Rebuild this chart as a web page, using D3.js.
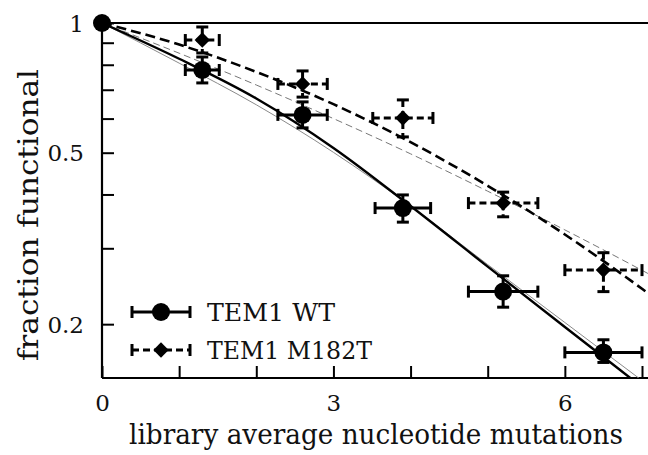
<!DOCTYPE html>
<html>
<head>
<meta charset="utf-8">
<script src="https://cdn.jsdelivr.net/npm/d3@7"></script>
<style>
  body { margin: 0; background: #fff; }
  svg { display: block; }
</style>
</head>
<body>
<div id="chart"></div>
<script>
// data
const xMut = [0, 1.3, 2.6, 3.9, 5.2, 6.5]
const wtFrac = [1, 0.778, 0.612, 0.372, 0.238, 0.172]
const wtLo = [1, 0.726, 0.571, 0.345, 0.219, 0.163]
const wtHi = [1, 0.834, 0.656, 0.399, 0.259, 0.184]
const wtXErr = [0, 0.22, 0.32, 0.36, 0.45, 0.5]
const m182Frac = [1, 0.913, 0.722, 0.602, 0.382, 0.267]
const m182Lo = [1, 0.852, 0.673, 0.544, 0.355, 0.238]
const m182Hi = [1, 0.979, 0.774, 0.663, 0.405, 0.293]
const m182XErr = [0, 0.22, 0.32, 0.39, 0.45, 0.5]

// fitted curves, sampled from the figure
const fitX = [0, 1, 2, 3, 4, 5, 6, 7, 7.5]
const wtFit = [1, 0.826, 0.668, 0.513, 0.376, 0.272, 0.197, 0.1429, 0.1216]
const wtFitThin = [1, 0.807, 0.646, 0.501, 0.376, 0.275, 0.2018, 0.148, 0.1266]
const m182Fit = [1, 0.891, 0.770, 0.648, 0.529, 0.419, 0.323, 0.2416, 0.207]
const m182FitThin = [1, 0.851, 0.718, 0.600, 0.497, 0.407, 0.331, 0.2667, 0.2385]

const xTicks = [0, 1, 2, 3, 4, 5, 6, 7]
const xTickLabels = [0, 3, 6]
const yTicks = [0.2, 0.3, 0.4, 0.5, 0.6, 0.7, 0.8, 0.9, 1]
const yTickLabels = [0.2, 0.5, 1]
const seriesNames = ["TEM1 WT", "TEM1 M182T"]

const serif = "DejaVu Serif"

let svgWidth = 648
let svgHeight = 455
let margin = {top: 23, right: 0, bottom: 77, left: 102}
let chartwidth = svgWidth - margin.left - margin.right
let chartheight = svgHeight - margin.top - margin.bottom

let svg = d3.select("#chart").append("svg")
  .attr("width", svgWidth)
  .attr("height", svgHeight)
svg.append("rect").attr("width", svgWidth).attr("height", svgHeight).attr("fill", "#fff")

let g = svg.append("g").attr("transform", `translate(${margin.left},${margin.top})`)

let x = d3.scaleLinear().domain([0, 7]).range([0, 540])
let y = d3.scaleLog().domain([0.15, 1]).range([chartheight, 0])

g.append("clipPath").attr("id", "plotclip")
  .append("rect").attr("x", 0).attr("y", -12).attr("width", chartwidth).attr("height", chartheight + 12)

// axes
let bottomAxis = d3.axisBottom(x).tickValues(xTicks).tickSize(-12).tickSizeOuter(0).tickPadding(17)
  .tickFormat(d => xTickLabels.includes(d) ? d : "")
let leftAxis = d3.axisLeft(y).tickValues(yTicks).tickSize(-12).tickSizeOuter(0).tickPadding(18)
  .tickFormat(d => yTickLabels.includes(d) ? d : "")

let xa = g.append("g").attr("transform", `translate(0,${chartheight})`).call(bottomAxis)
let ya = g.append("g").call(leftAxis)
;[xa, ya].forEach(a => {
  a.attr("font-family", serif)
  a.select(".domain").remove()
  a.selectAll("line").attr("stroke", "#000").attr("stroke-width", 2)
  a.selectAll("text").attr("font-size", 23).attr("fill", "#111").attr("font-family", serif)
})
ya.selectAll("text").attr("dy", "0.36em")

// frame: left, bottom, top
g.append("line").attr("x1", 0).attr("x2", 0).attr("y1", 0).attr("y2", chartheight)
  .attr("stroke", "#000").attr("stroke-width", 2.2)
g.append("line").attr("x1", 0).attr("x2", chartwidth).attr("y1", chartheight).attr("y2", chartheight)
  .attr("stroke", "#000").attr("stroke-width", 2.2)
g.append("line").attr("x1", 0).attr("x2", chartwidth).attr("y1", 0).attr("y2", 0)
  .attr("stroke", "#000").attr("stroke-width", 2.2)

// fit curves
let line = d3.line().x(d => x(d[0])).y(d => y(d[1])).curve(d3.curveMonotoneX)
let curves = g.append("g").attr("clip-path", "url(#plotclip)")
function drawFit(vals, w, color, dash) {
  curves.append("path")
    .attr("d", line(fitX.map((v, i) => [v, vals[i]])))
    .attr("fill", "none").attr("stroke", color).attr("stroke-width", w)
    .attr("stroke-dasharray", dash)
}
drawFit(wtFitThin, 1, "#8a8a8a", null)
drawFit(m182FitThin, 1, "#777", "7,4")
drawFit(wtFit, 2.4, "#000", null)
drawFit(m182Fit, 2.6, "#000", "10,5")

// error bars
function errorBars(frac, lo, hi, xerr, dash) {
  let eg = g.append("g").attr("stroke", "#000").attr("stroke-width", 3).attr("fill", "none")
  xMut.forEach((m, i) => {
    if (i === 0) return
    let cy = y(frac[i]), cx = x(m)
    let x0 = x(m - xerr[i]), x1 = x(m + xerr[i])
    eg.append("line").attr("x1", x0).attr("x2", x1).attr("y1", cy).attr("y2", cy).attr("stroke-dasharray", dash)
    eg.append("line").attr("x1", x0).attr("x2", x0).attr("y1", cy - 6).attr("y2", cy + 6)
    eg.append("line").attr("x1", x1).attr("x2", x1).attr("y1", cy - 6).attr("y2", cy + 6)
    eg.append("line").attr("x1", cx).attr("x2", cx).attr("y1", y(hi[i])).attr("y2", y(lo[i])).attr("stroke-dasharray", dash)
    eg.append("line").attr("x1", cx - 6).attr("x2", cx + 6).attr("y1", y(hi[i])).attr("y2", y(hi[i]))
    eg.append("line").attr("x1", cx - 6).attr("x2", cx + 6).attr("y1", y(lo[i])).attr("y2", y(lo[i]))
  })
}
errorBars(m182Frac, m182Lo, m182Hi, m182XErr, "7,4")
errorBars(wtFrac, wtLo, wtHi, wtXErr, null)

let diamond = d3.symbol().type(d3.symbolDiamond2).size(150)
g.selectAll(".dia").data(xMut).enter().append("path")
  .attr("d", diamond)
  .attr("transform", (d, i) => `translate(${x(d)},${y(m182Frac[i])})`)
  .attr("fill", "#000")
g.selectAll(".dot").data(xMut).enter().append("circle")
  .attr("cx", d => x(d)).attr("cy", (d, i) => y(wtFrac[i]))
  .attr("r", 9).attr("fill", "#000")

// legend
let lg = svg.append("g")
function legendRow(yy, dash, marker, label, len) {
  lg.append("line").attr("x1", 132).attr("x2", 190).attr("y1", yy).attr("y2", yy)
    .attr("stroke", "#000").attr("stroke-width", 3).attr("stroke-dasharray", dash)
  lg.append("line").attr("x1", 132).attr("x2", 132).attr("y1", yy - 6).attr("y2", yy + 6)
    .attr("stroke", "#000").attr("stroke-width", 3)
  lg.append("line").attr("x1", 190).attr("x2", 190).attr("y1", yy - 6).attr("y2", yy + 6)
    .attr("stroke", "#000").attr("stroke-width", 3)
  if (marker === "circle") lg.append("circle").attr("cx", 161).attr("cy", yy).attr("r", 9)
  else lg.append("path").attr("d", diamond).attr("transform", `translate(161,${yy})`)
  lg.append("text").attr("x", 207).attr("y", yy + 9).attr("font-size", 24).attr("fill", "#111")
    .attr("font-family", serif).attr("textLength", len).attr("lengthAdjust", "spacingAndGlyphs")
    .text(label)
}
legendRow(312, null, "circle", seriesNames[0], 128)
legendRow(350, "7,4", "diamond", seriesNames[1], 165)

// axis titles
svg.append("text").attr("x", 376).attr("y", 444).attr("text-anchor", "middle")
  .attr("font-size", 27).attr("fill", "#111").attr("font-family", serif)
  .attr("textLength", 494).attr("lengthAdjust", "spacingAndGlyphs")
  .text("library average nucleotide mutations")
svg.append("text").attr("transform", "translate(38,215) rotate(-90)").attr("text-anchor", "middle")
  .attr("font-size", 27).attr("fill", "#111").attr("font-family", serif)
  .attr("textLength", 292).attr("lengthAdjust", "spacingAndGlyphs")
  .text("fraction functional")
</script>
</body>
</html>
